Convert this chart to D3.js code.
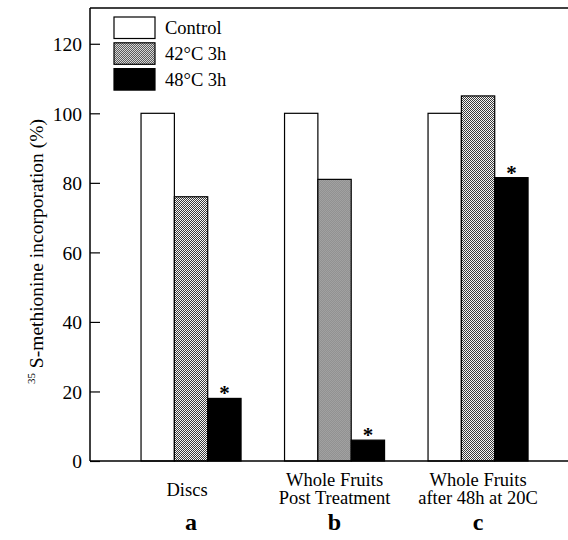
<!DOCTYPE html>
<html>
<head>
<meta charset="utf-8">
<script src="https://cdn.jsdelivr.net/npm/d3@7"></script>
<style>
  body { margin: 0; background: #fff; }
  svg text { font-family: "Liberation Serif", "Times New Roman", serif; fill: #000; }
</style>
</head>
<body>
<div id="chart"></div>
<script>
// data
var groups = ["a", "b", "c"];
var groupLabels = [["Discs"], ["Whole Fruits", "Post Treatment"], ["Whole Fruits", "after 48h at 20C"]];
var series = ["Control", "42°C 3h", "48°C 3h"];
var control = [100, 100, 100];
var heat42 = [76, 81, 105];
var heat48 = [18, 6, 81.5];
var yTicks = [0, 20, 40, 60, 80, 100, 120];

var W = 568, H = 540;
var margin = { top: 9, left: 90, bottom: 79 };
var y0 = H - margin.bottom;

var svg = d3.select("#chart").append("svg")
    .attr("width", W)
    .attr("height", H);

// checker pattern for the 42°C bars
var pat = svg.append("defs").append("pattern")
    .attr("id", "checker")
    .attr("width", 2).attr("height", 2)
    .attr("patternUnits", "userSpaceOnUse");
pat.append("rect").attr("width", 2).attr("height", 2).attr("fill", "#fff");
pat.append("rect").attr("width", 1).attr("height", 1).attr("fill", "#333");
pat.append("rect").attr("x", 1).attr("y", 1).attr("width", 1).attr("height", 1).attr("fill", "#333");

var fills = ["#fff", "url(#checker)", "#000"];

var yScale = d3.scaleLinear().domain([0, 130]).range([y0, margin.top]);

var xScale = d3.scaleBand()
    .domain(groups)
    .range([119.3, 549.8])
    .paddingInner(0.303)
    .paddingOuter(0.1515);

var xSub = d3.scaleBand()
    .domain(series)
    .range([0, xScale.bandwidth()]);

var rows = groups.map(function (g, i) {
    return { group: g, vals: [control[i], heat42[i], heat48[i]] };
});

var gGroup = svg.selectAll(".grp")
    .data(rows)
    .enter().append("g")
    .attr("class", "grp")
    .attr("transform", function (d) { return "translate(" + xScale(d.group) + ",0)"; });

gGroup.selectAll("rect")
    .data(function (d) { return d.vals.map(function (v, j) { return { s: series[j], v: v, j: j }; }); })
    .enter().append("rect")
    .attr("x", function (d) { return xSub(d.s); })
    .attr("y", function (d) { return yScale(d.v); })
    .attr("width", xSub.bandwidth())
    .attr("height", function (d) { return y0 - yScale(d.v); })
    .attr("fill", function (d) { return fills[d.j]; })
    .attr("stroke", "#000")
    .attr("stroke-width", 1.2);

// asterisks on 48°C bars
gGroup.append("text")
    .attr("x", xSub(series[2]) + xSub.bandwidth() / 2)
    .attr("y", function (d) { return yScale(d.vals[2]) + 2; })
    .attr("text-anchor", "middle")
    .style("font-size", "21px")
    .style("font-weight", "bold")
    .text("*");

// y axis
var yAxis = d3.axisLeft(yScale)
    .tickValues(yTicks)
    .tickSize(-10)
    .tickPadding(8)
    .tickSizeOuter(0);

var ga = svg.append("g")
    .attr("transform", "translate(" + margin.left + ",0)")
    .call(yAxis);
ga.select(".domain").remove();
ga.selectAll("line").attr("stroke", "#000").attr("stroke-width", 1.2);
ga.selectAll("text")
    .style("font-family", "Liberation Serif")
    .style("font-size", "19.5px")
    .attr("dy", "0.35em");

// frame lines: left, top, bottom
svg.append("line").attr("x1", margin.left).attr("x2", margin.left)
    .attr("y1", margin.top - 1).attr("y2", y0).attr("stroke", "#000").attr("stroke-width", 1.5);
svg.append("line").attr("x1", margin.left).attr("x2", W)
    .attr("y1", margin.top - 1).attr("y2", margin.top - 1).attr("stroke", "#000").attr("stroke-width", 1.5);
svg.append("line").attr("x1", margin.left).attr("x2", W)
    .attr("y1", y0).attr("y2", y0).attr("stroke", "#000").attr("stroke-width", 1.5);

// y label
var yl = svg.append("text")
    .attr("transform", "translate(43,384) rotate(-90)")
    .attr("text-anchor", "start")
    .style("font-size", "19.5px");
yl.append("tspan").attr("font-size", "11px").attr("dy", "-8").text("35");
yl.append("tspan").attr("dy", "8").text(" S-methionine incorporation (%)");

// category labels
svg.selectAll(".cat")
    .data(groups)
    .enter().append("text")
    .attr("class", "cat")
    .attr("text-anchor", "middle")
    .attr("y", function (d, i) { return groupLabels[i].length === 1 ? 496 : 486; })
    .style("font-size", "18.5px")
    .each(function (d, i) {
        var t = d3.select(this);
        groupLabels[i].forEach(function (line, k) {
            t.append("tspan")
                .attr("x", xScale(d) + xScale.bandwidth() / 2 - (i === 0 ? 4 : 0))
                .attr("dy", k === 0 ? 0 : 18)
                .text(line);
        });
    });

// panel letters
svg.selectAll(".letter")
    .data(groups)
    .enter().append("text")
    .attr("class", "letter")
    .attr("text-anchor", "middle")
    .attr("x", function (d) { return xScale(d) + xScale.bandwidth() / 2; })
    .attr("y", 530)
    .style("font-size", "24px")
    .style("font-weight", "bold")
    .text(function (d) { return d; });

// legend
var leg = svg.selectAll(".leg")
    .data(series)
    .enter().append("g")
    .attr("class", "leg")
    .attr("transform", function (d, i) { return "translate(114," + (17 + i * 25.8) + ")"; });

leg.append("rect")
    .attr("width", 41)
    .attr("height", 21.5)
    .attr("fill", function (d, i) { return fills[i]; })
    .attr("stroke", "#000")
    .attr("stroke-width", 1.2);

leg.append("text")
    .attr("x", 51)
    .attr("y", 17)
    .style("font-size", "18.5px")
    .text(function (d) { return d; });
</script>
</body>
</html>
